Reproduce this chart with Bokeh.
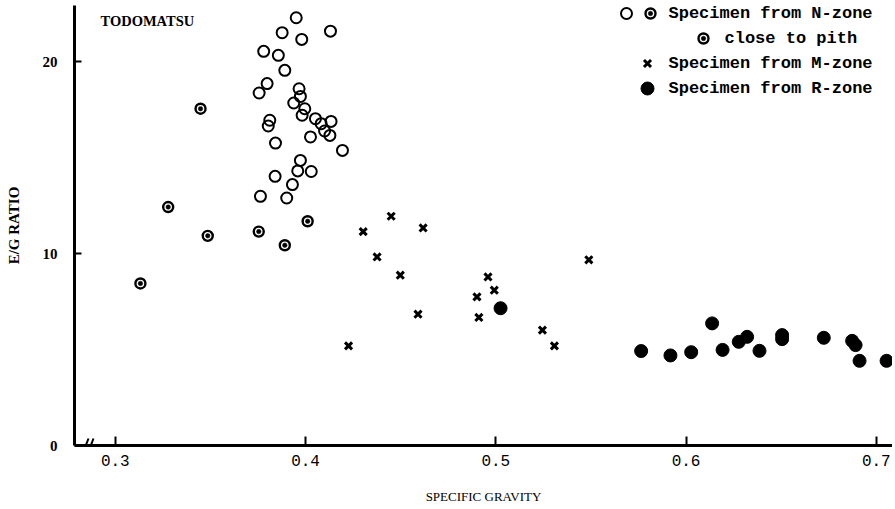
from bokeh.plotting import figure
from bokeh.models import Range1d, FixedTicker, Label
from bokeh.embed import file_html
from bokeh.resources import INLINE

# ---------------- data ----------------
# N-zone specimens (open circles)
n_sg = [0.3951, 0.4131, 0.3877, 0.3980, 0.3780, 0.3857, 0.3891, 0.3798, 0.3756,
        0.3966, 0.3973, 0.3938, 0.3996, 0.3982, 0.4052, 0.4134, 0.3812, 0.3804,
        0.4082, 0.4100, 0.4128, 0.4026, 0.3842, 0.4194, 0.3973, 0.3959, 0.4030,
        0.3840, 0.3931, 0.3763, 0.3901]
n_eg = [22.28, 21.58, 21.50, 21.15, 20.53, 20.32, 19.54, 18.85, 18.36,
        18.58, 18.18, 17.84, 17.54, 17.20, 17.02, 16.88, 16.94, 16.64,
        16.76, 16.38, 16.15, 16.07, 15.75, 15.37, 14.85, 14.30, 14.27,
        14.02, 13.59, 12.98, 12.89]
# N-zone specimens close to pith (dotted circles)
pith_sg = [0.3448, 0.3278, 0.3486, 0.3132, 0.3754, 0.3891, 0.4011]
pith_eg = [17.54, 12.42, 10.92, 8.44, 11.14, 10.43, 11.68]
# M-zone specimens (crosses)
m_sg = [0.4450, 0.4303, 0.4618, 0.4376, 0.4498, 0.4959, 0.4992, 0.4901, 0.4911,
        0.4591, 0.4226, 0.5489, 0.5245, 0.5308]
m_eg = [11.94, 11.14, 11.33, 9.82, 8.87, 8.78, 8.09, 7.74, 6.67,
        6.84, 5.19, 9.67, 6.01, 5.19]
# R-zone specimens (filled circles)
r_sg = [0.5025, 0.5764, 0.5918, 0.6027, 0.6137, 0.6192, 0.6277, 0.6321, 0.6386,
        0.6505, 0.6505, 0.6724, 0.6873, 0.6891, 0.6912, 0.7054]
r_eg = [7.15, 4.92, 4.69, 4.86, 6.36, 4.98, 5.40, 5.66, 4.93,
        5.75, 5.54, 5.61, 5.45, 5.23, 4.41, 4.41]

x_ticks = [0.3, 0.4, 0.5, 0.6, 0.7]
x_tick_labels = ["0.3", "0.4", "0.5", "0.6", "0.7"]
y_ticks = [0, 10, 20]
y_tick_labels = ["0", "10", "20"]

legend_labels = ["Specimen from N-zone", "close to pith",
                 "Specimen from M-zone", "Specimen from R-zone"]

# ---------------- layout helpers (page px -> data) ----------------
PX_PER_X = 1902.5
PX_PER_Y = 19.2
W, H = 892, 506
FRAME_L, FRAME_T, FRAME_B = 74, 5, 445


def sx(px):
    return 0.3 + (px - 114.8) / PX_PER_X


def sy(py):
    return (FRAME_B - py) / PX_PER_Y


p = figure(width=W, height=H, output_backend="svg", toolbar_location=None,
           x_range=Range1d(sx(FRAME_L), sx(W)), y_range=Range1d(0, sy(FRAME_T)),
           min_border_left=FRAME_L, min_border_right=0, min_border_top=FRAME_T,
           min_border_bottom=H - FRAME_B)

p.outline_line_color = None
p.grid.visible = False
p.background_fill_color = "white"
p.border_fill_color = "white"

# axes styling
for ax in (p.xaxis[0], p.yaxis[0]):
    ax.axis_line_width = 3
    ax.axis_line_color = "black"
    ax.major_tick_line_color = "black"
    ax.major_tick_line_width = 2
    ax.major_tick_out = 0
    ax.minor_tick_line_color = None

p.xaxis.ticker = FixedTicker(ticks=x_ticks)
p.xaxis.major_label_overrides = dict(zip(x_ticks, x_tick_labels))
p.xaxis.major_tick_in = 9
p.xaxis.major_label_standoff = 9
p.xaxis.major_label_text_font = "Liberation Mono"
p.xaxis.major_label_text_font_size = "16px"
p.xaxis.major_label_text_color = "black"
p.xaxis.axis_label = "SPECIFIC GRAVITY"
p.xaxis.axis_label_standoff = 20
p.xaxis.axis_label_text_font = "Liberation Serif"
p.xaxis.axis_label_text_font_style = "normal"
p.xaxis.axis_label_text_font_size = "13px"
p.xaxis.axis_label_text_color = "black"

p.yaxis.ticker = FixedTicker(ticks=y_ticks)
p.yaxis.major_label_overrides = dict(zip(y_ticks, y_tick_labels))
p.yaxis.major_tick_in = 7
p.yaxis.major_label_standoff = 17
p.yaxis.major_label_text_font = "Liberation Serif"
p.yaxis.major_label_text_font_style = "bold"
p.yaxis.major_label_text_font_size = "15px"
p.yaxis.major_label_text_color = "black"
p.yaxis.axis_label = "E/G RATIO"
p.yaxis.axis_label_standoff = 18
p.yaxis.axis_label_text_font = "Liberation Serif"
p.yaxis.axis_label_text_font_style = "bold"
p.yaxis.axis_label_text_font_size = "15px"
p.yaxis.axis_label_text_color = "black"

# ---------------- data glyphs ----------------
p.scatter(n_sg, n_eg, marker="circle", size=11, fill_color=None,
          line_color="black", line_width=2)
p.scatter(pith_sg, pith_eg, marker="circle", size=10, fill_color="white",
          line_color="black", line_width=2.4)
p.scatter(pith_sg, pith_eg, marker="circle", size=4.5, fill_color="black",
          line_color="black", line_width=0.5)
p.scatter(m_sg, m_eg, marker="x", size=10, line_color="black", line_width=3)
p.scatter(r_sg, r_eg, marker="circle", size=13, fill_color="black",
          line_color="black")

# axis break mark on the x axis
p.segment(x0=[sx(83), sx(88)], y0=[sy(451), sy(451)],
          x1=[sx(88), sx(93)], y1=[sy(438), sy(438)],
          line_color="black", line_width=2)

# ---------------- title ----------------
p.add_layout(Label(x=sx(100), y=sy(20), text="TODOMATSU",
                   text_font="Liberation Serif", text_font_style="bold",
                   text_font_size="14.5px", text_baseline="middle",
                   text_align="left", text_color="black"))

# ---------------- legend (drawn by hand) ----------------
row_y = [13, 38, 63, 88]
p.scatter([sx(626)], [sy(row_y[0])], marker="circle", size=11, fill_color=None,
          line_color="black", line_width=2)
p.scatter([sx(650), sx(703)], [sy(row_y[0]), sy(row_y[1])], marker="circle",
          size=10, fill_color="white", line_color="black", line_width=2.4)
p.scatter([sx(650), sx(703)], [sy(row_y[0]), sy(row_y[1])], marker="circle",
          size=4.5, fill_color="black", line_color="black", line_width=0.5)
p.scatter([sx(647)], [sy(row_y[2])], marker="x", size=10, line_color="black",
          line_width=3)
p.scatter([sx(647)], [sy(row_y[3])], marker="circle", size=13,
          fill_color="black", line_color="black")

text_x = [668, 724, 668, 668]
for lab, tx, ty in zip(legend_labels, text_x, row_y):
    p.add_layout(Label(x=sx(tx), y=sy(ty), text=lab,
                       text_font="Liberation Mono", text_font_style="bold",
                       text_font_size="17px", text_baseline="middle",
                       text_align="left", text_color="black"))

open("out.html", "w").write(file_html(p, INLINE))
